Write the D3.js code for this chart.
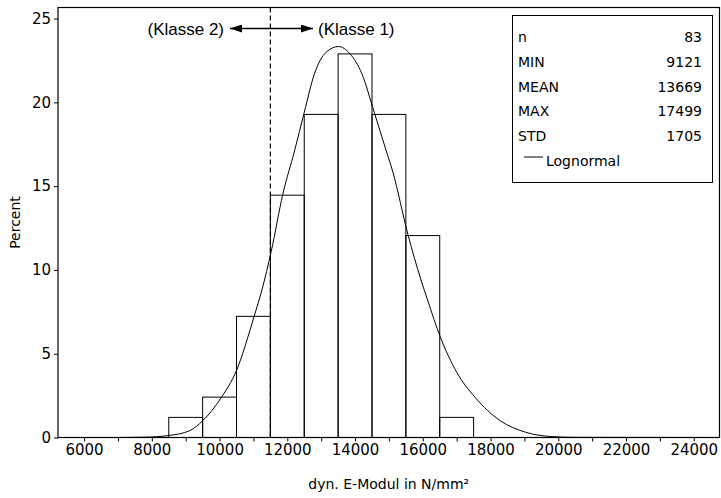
<!DOCTYPE html>
<html>
<head>
<meta charset="utf-8">
<script src="https://cdn.jsdelivr.net/npm/d3@7"></script>
<style>
  body { margin: 0; background: #fff; }
  svg { display: block; }
  text { font-family: "DejaVu Sans", Verdana, sans-serif; fill: #000; }
</style>
</head>
<body>
<svg id="chart" width="721" height="498"></svg>
<script>
// histogram bins (class midpoints) and percent per bin
const binMids = [9000, 10000, 11000, 12000, 13000, 14000, 15000, 16000, 17000];
const binPercent = [1.2, 2.41, 7.23, 14.46, 19.28, 22.89, 19.28, 12.05, 1.2];
const binWidth = 1000;

// fitted lognormal curve
const curveX = [5500, 7000, 7800, 8500, 9131, 9500, 10047, 10500, 11022, 11250, 11524, 11870, 12213, 12500, 12800, 13150, 13512, 13850, 14203, 14567, 14922, 15108, 15563, 15947, 16142, 16517, 17000, 17542, 18290, 19028, 19767, 20500, 24500];
const curveY = [0, 0, 0.02, 0.12, 0.42, 1.0, 2.37, 4.0, 7.24, 8.8, 11.1, 14.54, 17.1, 19.4, 21.7, 23.0, 23.33, 22.9, 21.7, 19.4, 17.1, 15.9, 12.1, 9.4, 8.2, 6.0, 3.9, 2.4, 1.0, 0.32, 0.06, 0.01, 0];

const xTicks = [6000, 8000, 10000, 12000, 14000, 16000, 18000, 20000, 22000, 24000];
const xMinorTicks = [7000, 9000, 11000, 13000, 15000, 17000, 19000, 21000, 23000];
const yTicks = [0, 5, 10, 15, 20, 25];
const classBorder = 11500;

const statLabels = ["n", "MIN", "MEAN", "MAX", "STD"];
const statValues = ["83", "9121", "13669", "17499", "1705"];

const svg = d3.select("#chart");
const pLeft = 58, pRight = 719.5, pTop = 7.5, pBottom = 437.5;

const x = d3.scaleLinear().domain([5230, 24760]).range([pLeft, pRight]);
const y = d3.scaleLinear().domain([0, 25.66]).range([pBottom, pTop]);

// bars
svg.append("g").selectAll("rect")
  .data(binMids)
  .enter().append("rect")
  .attr("x", d => x(d - binWidth / 2))
  .attr("y", (d, i) => y(binPercent[i]))
  .attr("width", d => x(d + binWidth / 2) - x(d - binWidth / 2))
  .attr("height", (d, i) => y(0) - y(binPercent[i]))
  .attr("fill", "none")
  .attr("stroke", "#000")
  .attr("stroke-width", 1);

// class border
svg.append("line")
  .attr("x1", x(classBorder)).attr("x2", x(classBorder))
  .attr("y1", pTop).attr("y2", pBottom)
  .attr("stroke", "#000")
  .attr("stroke-width", 1.2)
  .attr("stroke-dasharray", "5,3");

// lognormal curve
const line = d3.line()
  .x(d => x(d[0]))
  .y(d => y(d[1]))
  .curve(d3.curveMonotoneX);

svg.append("path")
  .datum(curveX.map((v, i) => [v, curveY[i]]))
  .attr("d", line)
  .attr("fill", "none")
  .attr("stroke", "#000")
  .attr("stroke-width", 1);

// axes
svg.append("g")
  .attr("transform", `translate(0,${pBottom})`)
  .call(d3.axisBottom(x).tickValues(xTicks).tickSize(4).tickPadding(3).tickFormat(d3.format("d")));
svg.append("g")
  .attr("transform", `translate(0,${pBottom})`)
  .call(d3.axisBottom(x).tickValues(xMinorTicks).tickSize(4).tickFormat(""));
svg.append("g")
  .attr("transform", `translate(${pLeft},0)`)
  .call(d3.axisLeft(y).tickValues(yTicks).tickSize(4).tickPadding(3));

svg.selectAll(".tick text")
  .style("font-family", "'DejaVu Sans', sans-serif")
  .style("font-size", "15px");
svg.selectAll(".domain").remove();

// frame
svg.append("rect")
  .attr("x", pLeft).attr("y", pTop)
  .attr("width", pRight - pLeft).attr("height", pBottom - pTop)
  .attr("fill", "none")
  .attr("stroke", "#000")
  .attr("stroke-width", 1.2);

// axis titles
svg.append("text")
  .attr("x", (pLeft + pRight) / 2)
  .attr("y", 489)
  .attr("text-anchor", "middle")
  .style("font-size", "14px")
  .text("dyn. E-Modul in N/mm²");

svg.append("text")
  .attr("transform", `translate(20,${(pTop + pBottom) / 2}) rotate(-90)`)
  .attr("text-anchor", "middle")
  .style("font-size", "14px")
  .text("Percent");

// class annotation with double arrow
const defs = svg.append("defs");
defs.append("marker")
  .attr("id", "head")
  .attr("viewBox", "0 0 12 8")
  .attr("refX", 12).attr("refY", 4)
  .attr("markerWidth", 12).attr("markerHeight", 8)
  .attr("markerUnits", "userSpaceOnUse")
  .attr("orient", "auto-start-reverse")
  .append("path")
  .attr("d", "M0,0L12,4L0,8Z")
  .attr("fill", "#000");

const arrowY = 28.5;
svg.append("line")
  .attr("x1", 230).attr("x2", 313)
  .attr("y1", arrowY).attr("y2", arrowY)
  .attr("stroke", "#000")
  .attr("stroke-width", 1.3)
  .attr("marker-start", "url(#head)")
  .attr("marker-end", "url(#head)");

svg.append("text")
  .attr("x", 224).attr("y", arrowY + 6)
  .attr("text-anchor", "end")
  .style("font-family", "'Liberation Sans', Arial, sans-serif")
  .style("font-size", "17px")
  .text("(Klasse 2)");
svg.append("text")
  .attr("x", 318).attr("y", arrowY + 6)
  .style("font-family", "'Liberation Sans', Arial, sans-serif")
  .style("font-size", "17px")
  .text("(Klasse 1)");

// stats legend
const legend = svg.append("g");
legend.append("rect")
  .attr("x", 512.5).attr("y", 15.5)
  .attr("width", 200).attr("height", 167)
  .attr("fill", "#fff")
  .attr("stroke", "#000")
  .attr("stroke-width", 1);

const rowY = d3.scaleLinear().domain([0, 5]).range([42, 166]);

legend.selectAll("text.lab")
  .data(statLabels)
  .enter().append("text")
  .attr("class", "lab")
  .attr("x", 518)
  .attr("y", (d, i) => rowY(i))
  .style("font-size", "14px")
  .text(d => d);

legend.selectAll("text.val")
  .data(statValues)
  .enter().append("text")
  .attr("class", "val")
  .attr("x", 702)
  .attr("y", (d, i) => rowY(i))
  .attr("text-anchor", "end")
  .style("font-size", "14px")
  .text(d => d);

legend.append("line")
  .attr("x1", 524).attr("x2", 543)
  .attr("y1", 157).attr("y2", 157)
  .attr("stroke", "#000")
  .attr("stroke-width", 1);
legend.append("text")
  .attr("x", 546)
  .attr("y", rowY(5))
  .style("font-size", "14px")
  .text("Lognormal");
</script>
</body>
</html>
